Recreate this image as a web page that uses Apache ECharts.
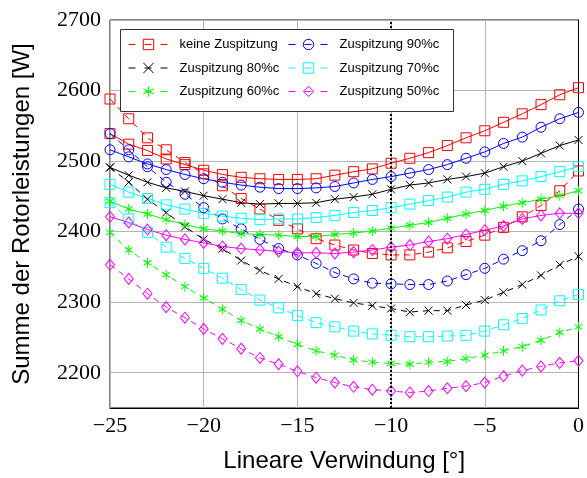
<!DOCTYPE html>
<html><head><meta charset="utf-8">
<script src="https://cdn.jsdelivr.net/npm/echarts@6/dist/echarts.min.js"></script>
<style>html,body{margin:0;padding:0;background:#fff}#c{width:587px;height:478px}</style>
</head><body><div id="c"></div>
<script>
// x positions (Lineare Verwindung in degrees)
const xValues = [-25,-24,-23,-22,-21,-20,-19,-18,-17,-16,-15,-14,-13,-12,-11,-10,-9,-8,-7,-6,-5,-4,-3,-2,-1,0];
const xTickLabels = [-25,-20,-15,-10,-5,0];
const yTickLabels = [2200,2300,2400,2500,2600,2700];

const seriesNames = ['keine Zuspitzung','Zuspitzung 90%c','Zuspitzung 80%c','Zuspitzung 70%c','Zuspitzung 60%c','Zuspitzung 50%c'];

// keine Zuspitzung
const keineSolid  = [2539,2524,2515,2503,2495,2487,2481,2477,2475,2474,2474,2475,2480,2485,2489,2497,2504,2512,2522,2533,2543,2555,2567,2580,2594,2604];
const keineDashed = [2588,2560,2533,2516,2498,2482,2465,2447,2432,2416,2404,2390,2381,2374,2369,2367,2367,2371,2377,2386,2395,2406,2421,2437,2458,2486];
// Zuspitzung 90%c
const z90Solid  = [2516,2506,2496,2488,2481,2475,2470,2466,2463,2461,2461,2462,2464,2469,2474,2478,2483,2488,2495,2504,2513,2525,2534,2548,2560,2569];
const z90Dashed = [2539,2516,2492,2470,2453,2434,2418,2404,2389,2376,2367,2355,2342,2333,2327,2326,2325,2325,2330,2339,2348,2361,2373,2387,2410,2432];
// Zuspitzung 80%c
const z80Solid  = [2491,2480,2470,2462,2457,2451,2446,2441,2439,2440,2440,2441,2446,2449,2453,2460,2466,2469,2474,2478,2483,2492,2500,2511,2522,2530];
const z80Dashed = [2491,2470,2446,2427,2407,2389,2376,2359,2345,2333,2322,2312,2305,2299,2295,2291,2286,2288,2288,2296,2303,2314,2325,2338,2353,2365];
// Zuspitzung 70%c
const z70Solid  = [2467,2456,2447,2438,2432,2426,2422,2419,2417,2418,2418,2420,2423,2427,2430,2434,2439,2444,2449,2456,2460,2467,2472,2478,2485,2492];
const z70Dashed = [2441,2418,2399,2378,2362,2348,2334,2318,2303,2292,2281,2271,2265,2259,2255,2253,2251,2251,2252,2253,2259,2268,2277,2289,2302,2311];
// Zuspitzung 60%c
const z60Solid  = [2443,2432,2425,2417,2410,2404,2401,2397,2396,2395,2393,2393,2396,2398,2401,2405,2409,2413,2419,2425,2430,2436,2441,2446,2451,2458];
const z60Dashed = [2399,2374,2356,2339,2322,2306,2290,2274,2262,2251,2240,2231,2225,2218,2215,2213,2212,2215,2216,2220,2225,2231,2237,2246,2257,2265];
// Zuspitzung 50%c
const z50Solid  = [2421,2413,2403,2395,2389,2384,2379,2376,2374,2372,2370,2370,2369,2371,2374,2378,2381,2386,2390,2396,2402,2408,2418,2423,2426,2426];
const z50Dashed = [2353,2333,2312,2293,2278,2262,2248,2234,2221,2212,2202,2193,2186,2180,2176,2174,2172,2174,2178,2181,2186,2195,2203,2209,2214,2217];

const markerLine = -10;

const groups = [
  {name: seriesNames[0], color:'#ff0000', symbol:'rect', size:10, solid:keineSolid, dashed:keineDashed},
  {name: seriesNames[1], color:'#0000ff', symbol:'circle', size:10, solid:z90Solid, dashed:z90Dashed},
  {name: seriesNames[2], color:'#000000', symbol:'path://M0,0L10,10M10,0L0,10', size:8, solid:z80Solid, dashed:z80Dashed},
  {name: seriesNames[3], color:'#00ffff', symbol:'rect', size:10, solid:z70Solid, dashed:z70Dashed},
  {name: seriesNames[4], color:'#00ff00', symbol:'path://M5,0L5,10M0.67,2.5L9.33,7.5M0.67,7.5L9.33,2.5', size:[9,10], solid:z60Solid, dashed:z60Dashed},
  {name: seriesNames[5], color:'#ff00ff', symbol:'diamond', size:[9,11], solid:z50Solid, dashed:z50Dashed}
];

const pair = arr => xValues.map((x,i)=>[x, arr[i]]);
const series = [];
groups.forEach((g, gi) => {
  ['dashed','solid'].forEach(kind => {
    const s = {
      name: g.name, type:'line', data: pair(g[kind]),
      symbol: g.symbol, symbolSize: g.size, symbolKeepAspect: true,
      itemStyle: {color:'transparent', borderColor:g.color, borderWidth:1},
      lineStyle: {color:g.color, width:1, type: kind==='dashed' ? [6,5] : 'solid'},
      emphasis: {disabled:true}, z: 3
    };
    if (gi === 0 && kind === 'dashed') {
      s.markLine = {
        silent:true, symbol:['none','none'], label:{show:false},
        lineStyle:{color:'#000', width:2, type:[2,2]},
        data:[{xAxis: markerLine}], z: 5
      };
    }
    series.push(s);
  });
});

const legendCommon = {
  orient:'vertical', padding:0, itemWidth:40, itemHeight:13, itemGap:10.5,
  textStyle:{fontFamily:'Liberation Sans', fontSize:13, color:'#000', padding:[0,0,0,6]},
  lineStyle:{width:1, type:[7,9]},
  itemStyle:{borderWidth:1},
  selectedMode:false, top:38
};

const chart = echarts.init(document.getElementById('c'), null, {renderer:'canvas'});
chart.setOption({
  animation:false,
  backgroundColor:'#fff',
  grid:{left:110, right:1.5, top:20, bottom:65, show:true, borderColor:'#000', borderWidth:1, containLabel:false},
  graphic:[{type:'rect', shape:{x:120.5, y:29.5, width:333, height:82}, style:{fill:'#fff', stroke:'#333', lineWidth:1}, z:90}],
  legend:[
    Object.assign({}, legendCommon, {left:128, data:[seriesNames[0], seriesNames[2], seriesNames[4]], z:100}),
    Object.assign({}, legendCommon, {left:288, data:[seriesNames[1], seriesNames[3], seriesNames[5]], z:100})
  ],
  xAxis:{
    type:'value', min:xTickLabels[0], max:xTickLabels[xTickLabels.length-1], interval:5,
    name:'Lineare Verwindung [°]', nameLocation:'middle', nameGap:41,
    nameTextStyle:{fontFamily:'Liberation Sans', fontSize:24, color:'#000'},
    axisLine:{show:true, lineStyle:{color:'#000'}},
    axisTick:{show:false},
    axisLabel:{fontFamily:'Liberation Serif', fontSize:22, color:'#000', margin:7,
      formatter:v => v<0 ? '\u2212'+Math.abs(v) : String(v)},
    splitLine:{show:true, lineStyle:{color:'#b4b4b4', width:1}}
  },
  yAxis:{
    type:'value', min:2150, max:yTickLabels[yTickLabels.length-1], interval:50,
    name:'Summe der Rotorleistungen [W]', nameLocation:'middle', nameGap:76,
    nameTextStyle:{fontFamily:'Liberation Sans', fontSize:24, color:'#000'},
    axisLine:{show:true, lineStyle:{color:'#000'}},
    axisTick:{show:false},
    axisLabel:{fontFamily:'Liberation Serif', fontSize:22, color:'#000', margin:9,
      formatter:v => yTickLabels.indexOf(v) >= 0 ? String(v) : ''},
    splitLine:{show:true, lineStyle:{color:['transparent','#b4b4b4'], width:1}}
  },
  series: series
});
</script></body></html>
